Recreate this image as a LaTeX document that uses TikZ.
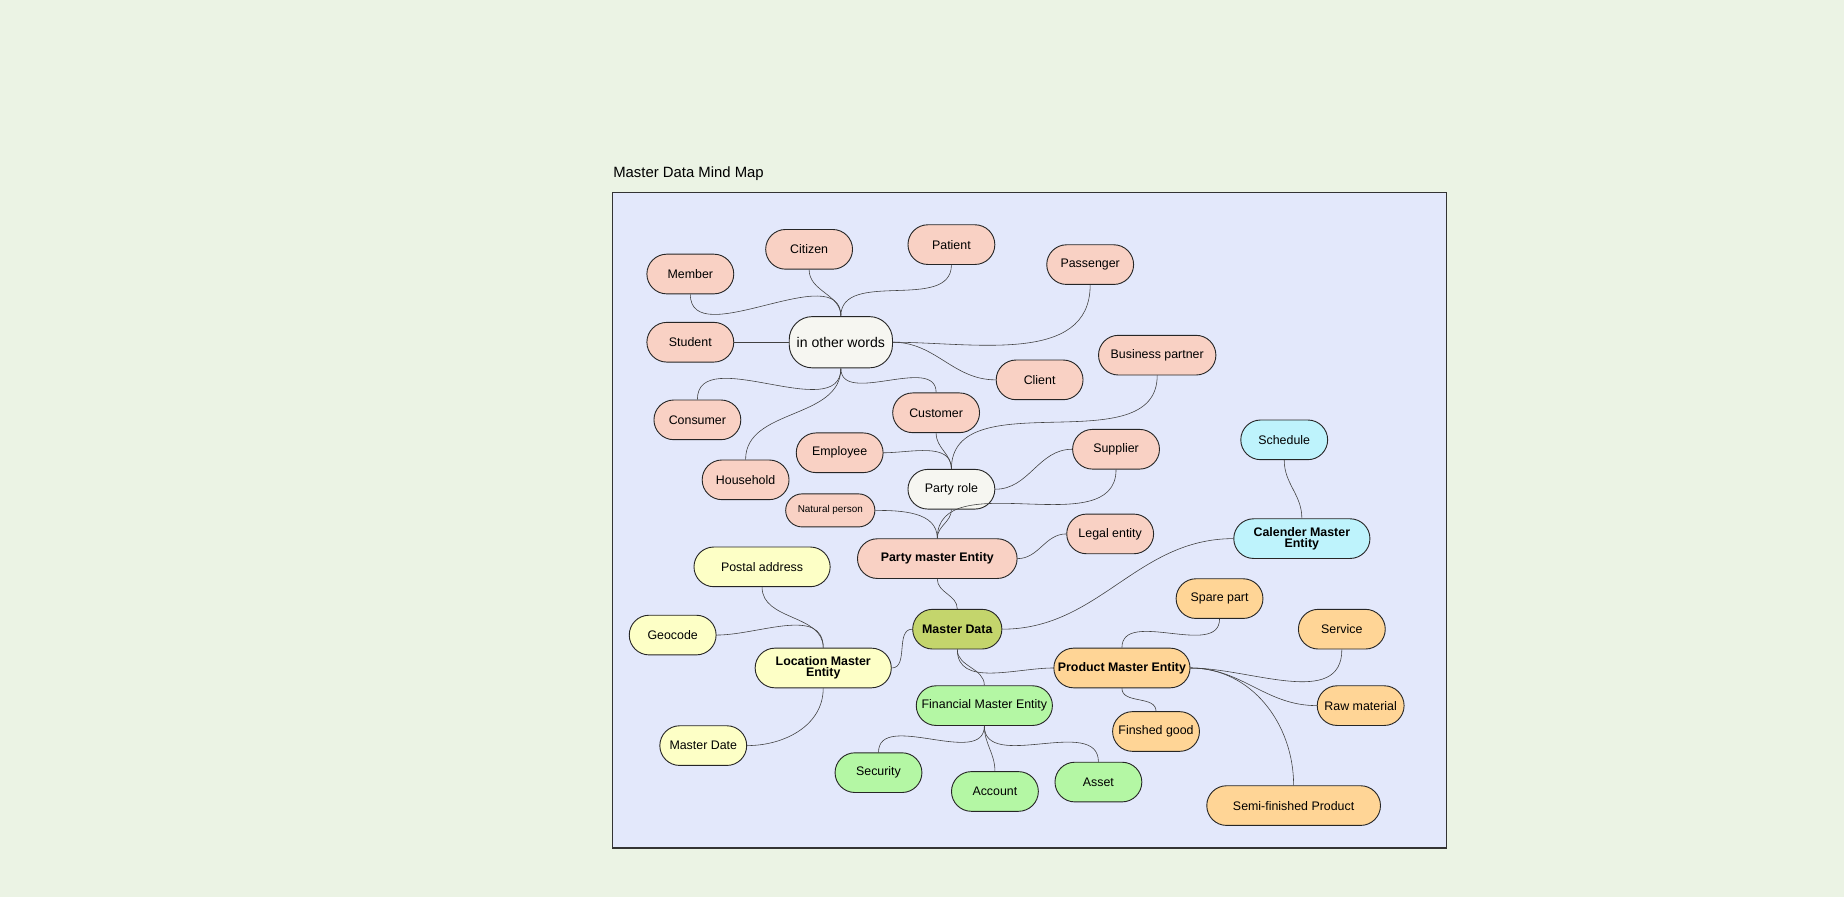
\documentclass[tikz,border=0pt]{standalone}
\usepackage{fontspec}
\setmainfont{Liberation Sans}
\begin{document}
\begin{tikzpicture}[x=0.05cm,y=-0.05cm,
 n/.style={draw=black!85,line width=1.1pt,rounded rectangle,minimum height=48pt,inner sep=2pt,align=center,font=\fontsize{15}{17}\selectfont},
 rounded rectangle/.style={rounded corners=24pt},
 sal/.style={n,fill=salm}, yel/.style={n,fill=yelc}, org/.style={n,fill=orgc}, grn/.style={n,fill=grnc}, cyn/.style={n,fill=cync}, wht/.style={n,fill=whc},
 b/.style={font=\fontsize{15}{16}\selectfont\bfseries},
 e/.style={draw=black!75,line width=0.7pt}]
\definecolor{salm}{HTML}{F9D1C4}\definecolor{yelc}{HTML}{FDFFC6}\definecolor{orgc}{HTML}{FFD596}
\definecolor{grnc}{HTML}{B4F7A4}\definecolor{cync}{HTML}{BEF3FC}\definecolor{whc}{HTML}{F6F6F1}
\definecolor{bg}{HTML}{EBF3E4}\definecolor{fr}{HTML}{E3E8FB}\definecolor{mdc}{HTML}{C4D56C}
\fill[bg] (0,0) rectangle (1568,763);
\useasboundingbox (0,0) rectangle (1568,763);
\node[anchor=west,font=\fontsize{18}{20}\selectfont] (title) at (519,148) {Master Data Mind Map};
\draw[fill=fr,line width=1.5pt,draw=black!80] (521,164) rectangle (1230,721);
\newcommand{\nd}[6]{\node[#1,minimum width=#4*1.42pt,#5] (#2) at (#3) {#6};}
\nd{sal}{member}{587,233}{74}{}{Member}
\nd{sal}{citizen}{688,212}{74}{}{Citizen}
\nd{sal}{patient}{809,208}{74}{}{Patient}
\nd{sal}{passenger}{927,225}{74}{}{Passenger}
\nd{sal}{student}{587,291}{74}{}{Student}
\nd{wht}{words}{715,291}{88}{minimum height=62pt,rounded corners=28pt,font=\fontsize{17}{19}\selectfont}{in other words}
\nd{sal}{client}{884,323}{74}{}{Client}
\nd{sal}{bp}{984,302}{100}{}{Business partner}
\nd{sal}{consumer}{593,357}{74}{}{Consumer}
\nd{sal}{customer}{796,351}{74}{}{Customer}
\nd{sal}{household}{634,408}{74}{}{Household}
\nd{sal}{employee}{714,385}{74}{}{Employee}
\nd{sal}{supplier}{949,382}{74}{}{Supplier}
\nd{wht}{role}{809,416}{74}{}{Party role}
\nd{sal}{natural}{706,434}{76}{minimum height=40pt,rounded corners=20pt,font=\fontsize{12}{14}\selectfont}{Natural person}
\nd{sal}{legal}{944,454}{74}{}{Legal entity}
\nd{cyn}{schedule}{1092,374}{74}{}{Schedule}
\nd{sal}{pme}{797,475}{136}{b}{Party master Entity}
\nd{cyn}{cal}{1107,458}{116}{b}{Calender Master\\[-3pt]Entity}
\nd{yel}{postal}{648,482}{116}{}{Postal address}
\nd{org}{spare}{1037,509}{74}{}{Spare part}
\nd{org}{service}{1141,535}{74}{}{Service}
\nd{yel}{geocode}{572,540}{74}{}{Geocode}
\node[n,fill=mdc,minimum width=76*1.42pt,b] (md) at (814,535) {Master Data};
\nd{yel}{lme}{700,568}{116}{b}{Location Master\\[-3pt]Entity}
\nd{org}{prme}{954,568}{116}{b}{Product Master Entity}
\nd{grn}{fme}{837,600}{116}{}{Financial Master Entity}
\nd{org}{raw}{1157,600}{74}{}{Raw material}
\nd{org}{fin}{983,622}{74}{}{Finshed good}
\nd{yel}{mdate}{598,634}{74}{}{Master Date}
\nd{grn}{security}{747,657}{74}{}{Security}
\nd{grn}{asset}{934,665}{74}{}{Asset}
\nd{grn}{account}{846,673}{74}{}{Account}
\nd{org}{semi}{1100,685}{148}{}{Semi-finished Product}
\draw[e] (member.south) to[out=-90,in=90] (words.north);
\draw[e] (citizen.south) to[out=-90,in=90] (words.north);
\draw[e] (patient.south) to[out=-90,in=90] (words.north);
\draw[e] (passenger.south) to[out=-90,in=0] (words.east);
\draw[e] (student.east) -- (words.west);
\draw[e] (words.east) to[out=0,in=180] (client.west);
\draw[e] (words.south) to[out=-90,in=90] (consumer.north);
\draw[e] (words.south) to[out=-90,in=90] (household.north);
\draw[e] (words.south) to[out=-90,in=90] (customer.north);
\draw[e] (customer.south) to[out=-90,in=90] (role.north);
\draw[e] (employee.east) to[out=0,in=90] (role.north);
\draw[e] (bp.south) to[out=-90,in=90] (role.north);
\draw[e] (supplier.west) to[out=180,in=0] (role.east);
\draw[e] (role.south) to[out=-90,in=90] (pme.north);
\draw[e] (natural.east) to[out=0,in=90] (pme.north);
\draw[e] (supplier.south) to[out=-90,in=90] (pme.north);
\draw[e] (legal.west) to[out=180,in=0] (pme.east);
\draw[e] (pme.south) to[out=-90,in=90] (md.north);
\draw[e] (schedule.south) to[out=-90,in=90] (cal.north);
\draw[e] (cal.west) to[out=180,in=0] (md.east);
\draw[e] (md.west) to[out=180,in=0] (lme.east);
\draw[e] (postal.south) to[out=-90,in=90] (lme.north);
\draw[e] (geocode.east) to[out=0,in=90] (lme.north);
\draw[e] (lme.south) to[out=-90,in=0] (mdate.east);
\draw[e] (md.south) to[out=-90,in=90] (fme.north);
\draw[e] (md.south) to[out=-90,in=180] (prme.west);
\draw[e] (fme.south) to[out=-90,in=90] (security.north);
\draw[e] (fme.south) to[out=-90,in=90] (account.north);
\draw[e] (fme.south) to[out=-90,in=90] (asset.north);
\draw[e] (spare.south) to[out=-90,in=90] (prme.north);
\draw[e] (service.south) to[out=-90,in=0] (prme.east);
\draw[e] (prme.east) to[out=0,in=180] (raw.west);
\draw[e] (prme.east) to[out=0,in=90] (semi.north);
\draw[e] (prme.south) to[out=-90,in=90] (fin.north);
\end{tikzpicture}
\end{document}
